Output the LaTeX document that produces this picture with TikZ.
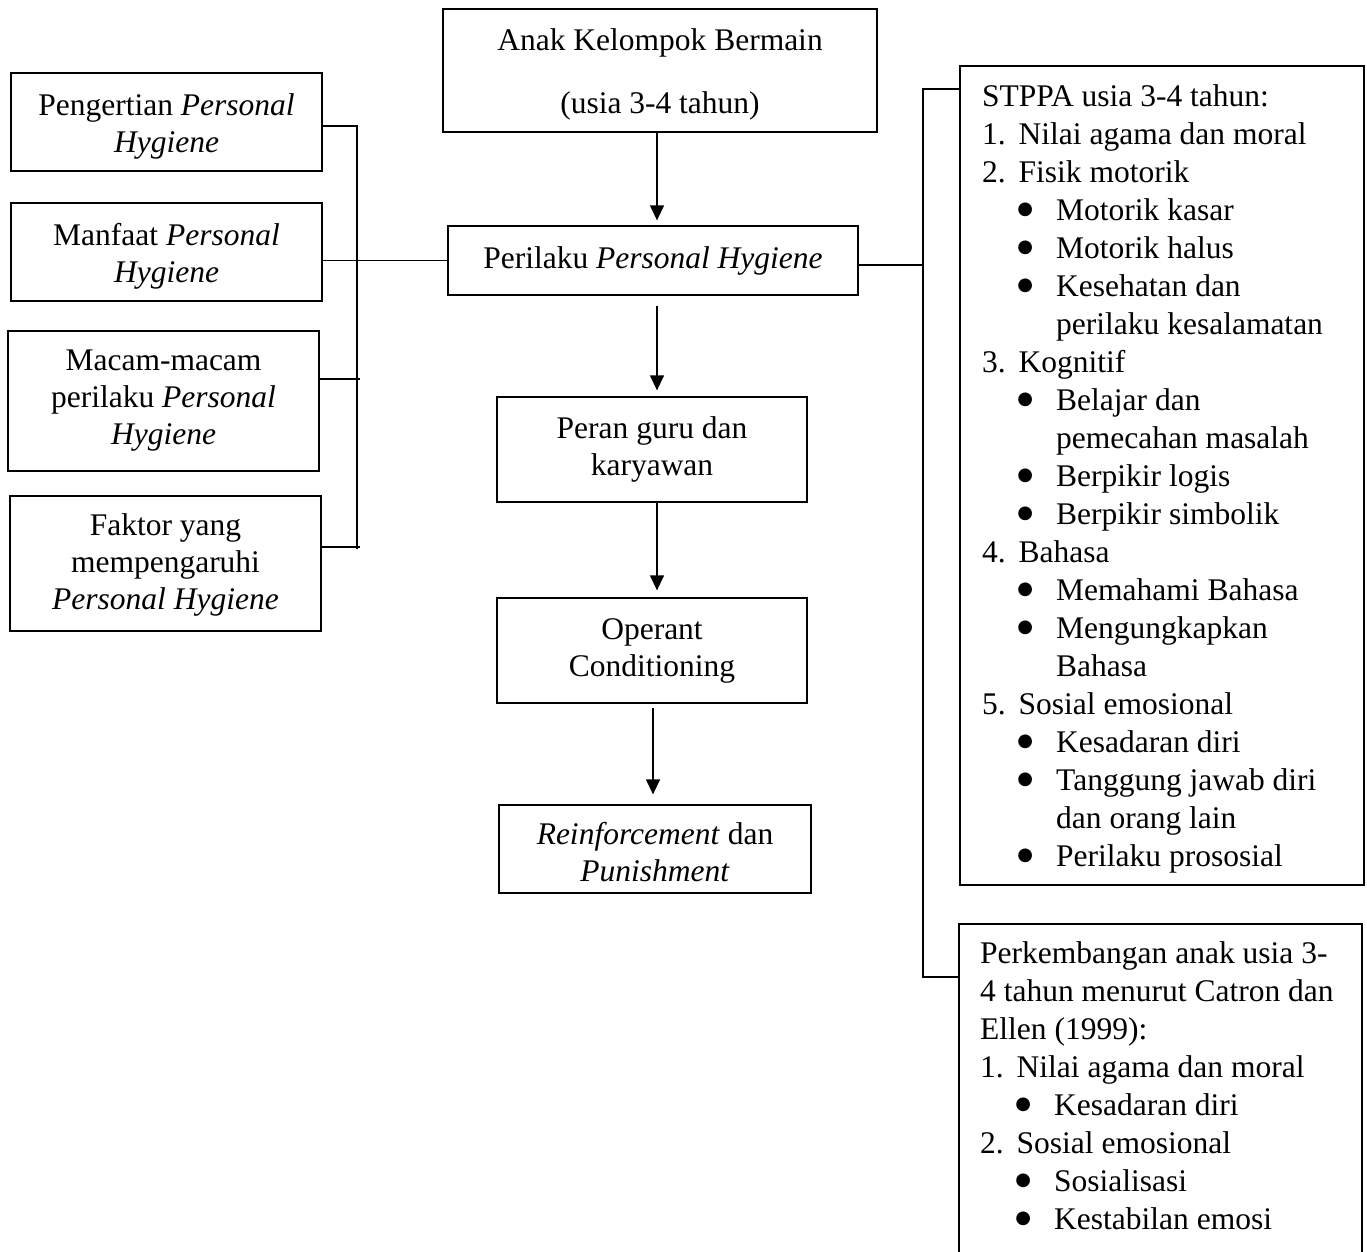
\documentclass[tikz,border=0pt]{standalone}
\usepackage{fontspec}
\setmainfont{Liberation Serif}
\newfontfamily\symfont{DejaVu Sans}
\usetikzlibrary{arrows.meta}
\newcommand{\numln}[2]{\makebox[36.5pt][l]{#1}#2}
\newcommand{\bigbul}{\raisebox{5.5pt}{\symfont\fontsize{18pt}{18pt}\selectfont ●}}
\newcommand{\bulln}[1]{\hspace*{37pt}\makebox[12pt]{\bigbul}\hspace*{25pt}#1}
\newcommand{\contln}[1]{\hspace*{74pt}#1}
\newcommand{\lift}[1]{\rule{0pt}{#1}}
\tikzset{
  box/.style={draw, line width=1.3pt, rectangle, inner sep=0pt, align=center,
    font=\fontsize{31.5pt}{37pt}\selectfont},
  conn/.style={line width=1.3pt},
  arr/.style={line width=1.3pt, -{Triangle[length=15pt,width=14pt]}},
  listtext/.style={anchor=base west, inner sep=0pt}
}
\begin{document}
\begin{tikzpicture}[x=1pt,y=-1pt]
\useasboundingbox (0,0) rectangle (1367,1251);
\clip (0,0) rectangle (1367,1251);

% centre column
\node[box, minimum width=434pt, minimum height=123pt] (anak) at (660,70.5)
  {\lift{29.5pt}Anak Kelompok Bermain\\[26pt](usia 3-4 tahun)};
\node[box, minimum width=410pt, minimum height=69pt] (perilaku) at (653,260.5)
  {Perilaku \textit{Personal Hygiene}};
\node[box, minimum width=310pt, minimum height=105pt] (peran) at (652,449.5)
  {Peran guru dan\\karyawan};
\node[box, minimum width=310pt, minimum height=105pt] (operant) at (652,650.5)
  {Operant\\Conditioning};
\node[box, minimum width=312pt, minimum height=88pt] (reinf) at (655,849)
  {\lift{29pt}\textit{Reinforcement} dan\\\textit{Punishment}};

% left column
\node[box, minimum width=311pt, minimum height=98pt] (pengertian) at (166.5,122)
  {\lift{31.5pt}Pengertian \textit{Personal}\\\textit{Hygiene}};
\node[box, minimum width=311pt, minimum height=98pt] (manfaat) at (166.5,252)
  {\lift{31.5pt}Manfaat \textit{Personal}\\\textit{Hygiene}};
\node[box, minimum width=311pt, minimum height=140pt] (macam) at (163.5,401)
  {Macam-macam\\perilaku \textit{Personal}\\\textit{Hygiene}};
\node[box, minimum width=311pt, minimum height=135pt] (faktor) at (165.5,563.5)
  {\lift{25pt}Faktor yang\\mempengaruhi\\\textit{Personal Hygiene}};

% right column boxes
\node[box, minimum width=404pt, minimum height=819pt] (stppa) at (1162,475.5) {};
\node[box, minimum width=403pt, minimum height=346pt] (catron) at (1160.5,1097) {};

\node[listtext] (stppatext) at (982,106) {\parbox[t]{380pt}{\fontsize{31.5pt}{38pt}\selectfont
STPPA usia 3-4 tahun:\\
\numln{1.}{Nilai agama dan moral}\\
\numln{2.}{Fisik motorik}\\
\bulln{Motorik kasar}\\
\bulln{Motorik halus}\\
\bulln{Kesehatan dan}\\
\contln{perilaku kesalamatan}\\
\numln{3.}{Kognitif}\\
\bulln{Belajar dan}\\
\contln{pemecahan masalah}\\
\bulln{Berpikir logis}\\
\bulln{Berpikir simbolik}\\
\numln{4.}{Bahasa}\\
\bulln{Memahami Bahasa}\\
\bulln{Mengungkapkan}\\
\contln{Bahasa}\\
\numln{5.}{Sosial emosional}\\
\bulln{Kesadaran diri}\\
\bulln{Tanggung jawab diri}\\
\contln{dan orang lain}\\
\bulln{Perilaku prososial}}};

\node[listtext] (catrontext) at (980,963) {\parbox[t]{380pt}{\fontsize{31.5pt}{38pt}\selectfont
Perkembangan anak usia 3-\\
4 tahun menurut Catron dan\\
Ellen (1999):\\
\numln{1.}{Nilai agama dan moral}\\
\bulln{Kesadaran diri}\\
\numln{2.}{Sosial emosional}\\
\bulln{Sosialisasi}\\
\bulln{Kestabilan emosi}}};

% arrows
\draw[arr, shorten >=5pt] ([xshift=-3pt]anak.south) -- ([xshift=4pt]perilaku.north);
\draw[arr, shorten <=10pt, shorten >=6pt] ([xshift=4pt]perilaku.south) -- ([xshift=5pt]peran.north);
\draw[arr, shorten >=7pt] ([xshift=5pt]peran.south) -- ([xshift=5pt]operant.north);
\draw[arr, shorten <=4pt, shorten >=10pt] ([xshift=1pt]operant.south) -- ([xshift=-2pt]reinf.north);

% left bracket
\coordinate (lt) at (357,126);
\coordinate (lb) at (357,549);
\coordinate (lm) at (360,379);
\coordinate (lf) at (360,547);
\draw[conn] (pengertian.east |- lt) -- (lt) -- (lb);
\draw[conn] (macam.east |- lm) -- (lm);
\draw[conn] (faktor.east |- lf) -- (lf);
\draw[conn] (manfaat.east |- perilaku.west) -- (perilaku.west);

% right bracket
\coordinate (rt) at (923,89);
\coordinate (rb) at (923,977);
\coordinate (rm) at (923,265);
\draw[conn] (perilaku.east |- rm) -- (rm);
\draw[conn] (stppa.west |- rt) -- (rt) -- (rb) -- (catron.west |- rb);
\end{tikzpicture}
\end{document}
